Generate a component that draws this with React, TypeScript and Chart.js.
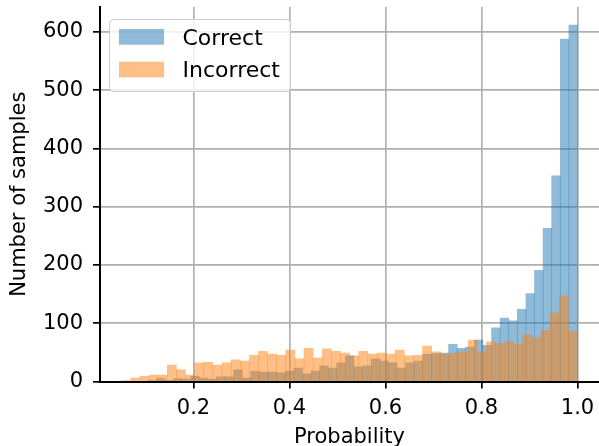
import React, { useEffect, useRef } from 'react';
import { Chart, registerables } from 'chart.js';

Chart.register(...registerables);

// ---- data (50 bins per series) ----
const SERIES_NAMES = ['Correct', 'Incorrect'];
const CORRECT_COUNTS = [
  1, 5, 2, 5, 4, 9, 6, 4, 8, 8,
  20, 6, 18, 16, 16, 15, 18, 23, 13, 18,
  27, 23, 32, 44, 25, 27, 39, 35, 32, 23,
  32, 35, 47, 48, 49, 64, 57, 59, 71, 62,
  92, 109, 104, 124, 151, 191, 263, 353, 588, 612,
];
const INCORRECT_COUNTS = [
  1, 6, 9, 11, 11, 28, 20, 11, 32, 33,
  28, 32, 37, 35, 45, 52, 47, 45, 54, 39,
  57, 40, 56, 52, 49, 44, 52, 47, 49, 47,
  54, 44, 45, 61, 51, 47, 49, 51, 71, 51,
  68, 65, 69, 64, 80, 75, 88, 118, 147, 86,
];
const CORRECT_RANGE = [0.1046, 1.0];
const INCORRECT_RANGE = [0.0504, 1.0];
const X_TICKS = [0.2, 0.4, 0.6, 0.8, 1.0];
const X_TICK_LABELS = ['0.2', '0.4', '0.6', '0.8', '1.0'];
const Y_TICKS = [0, 100, 200, 300, 400, 500, 600];
const Y_TICK_LABELS = ['0', '100', '200', '300', '400', '500', '600'];
const X_LIMITS = [0.0052, 1.0448];
const Y_LIMITS = [0, 643];
const X_TITLE = 'Probability';
const Y_TITLE = 'Number of samples';

const COLORS = ['rgba(31,119,180,0.5)', 'rgba(255,127,14,0.5)'];
const FONT = 'DejaVu Sans';

function binPoints(counts: number[], range: number[]) {
  const w = (range[1] - range[0]) / counts.length;
  return counts.map((c, i) => ({ x: range[0] + (i + 0.5) * w, y: c }));
}

const legendPlugin = {
  id: 'mplLegend',
  afterDraw(chart: any) {
    const ctx = chart.ctx;
    ctx.save();
    ctx.beginPath();
    ctx.roundRect(109.5, 19.5, 181, 72, 4);
    ctx.fillStyle = 'rgba(255,255,255,0.8)';
    ctx.fill();
    ctx.strokeStyle = '#cccccc';
    ctx.lineWidth = 1;
    ctx.stroke();
    chart.data.datasets.forEach((ds: any, i: number) => {
      const y = 29 + i * 32.7;
      ctx.fillStyle = ds.backgroundColor;
      ctx.fillRect(119, y, 45, 15.7);
      ctx.fillStyle = '#000';
      ctx.font = `22px "${FONT}"`;
      ctx.textBaseline = 'alphabetic';
      ctx.textAlign = 'left';
      ctx.fillText(ds.label, 182.5, y + 15.7);
    });
    ctx.restore();
  },
};

export default function App() {
  const ref = useRef<HTMLCanvasElement | null>(null);

  useEffect(() => {
    if (!ref.current) return;
    const tickFont = { family: FONT, size: 21 };
    const chart = new Chart(ref.current, {
      type: 'bar',
      data: {
        datasets: [
          {
            label: SERIES_NAMES[0],
            data: binPoints(CORRECT_COUNTS, CORRECT_RANGE),
            backgroundColor: COLORS[0],
            borderWidth: 0,
            xAxisID: 'x',
            order: 1,
            barPercentage: 1,
            categoryPercentage: 1,
            grouped: false,
          } as any,
          {
            label: SERIES_NAMES[1],
            data: binPoints(INCORRECT_COUNTS, INCORRECT_RANGE),
            backgroundColor: COLORS[1],
            borderWidth: 0,
            xAxisID: 'x2',
            order: 0,
            barPercentage: 1,
            categoryPercentage: 1,
            grouped: false,
          } as any,
        ],
      },
      options: {
        animation: false,
        responsive: false,
        devicePixelRatio: 1,
        layout: { padding: { top: 7, left: 0, right: 0, bottom: 0 } },
        plugins: {
          legend: { display: false },
          tooltip: { enabled: false },
        },
        scales: {
          x: {
            type: 'linear',
            position: 'bottom',
            min: X_LIMITS[0],
            max: X_LIMITS[1],
            offset: false,
            z: 1,
            afterBuildTicks: (s: any) => {
              s.ticks = X_TICKS.map((v) => ({ value: v }));
            },
            afterFit: (s: any) => {
              s.height = 64.5;
              s.paddingLeft = 0;
              s.paddingRight = 0;
            },
            ticks: {
              color: '#000',
              font: tickFont,
              padding: 7,
              maxRotation: 0,
              autoSkip: false,
              callback: (_v: any, i: number) => X_TICK_LABELS[i],
            },
            grid: {
              offset: false,
              color: '#b0b0b0',
              lineWidth: 1.7,
              drawTicks: true,
              tickLength: 7,
              tickColor: '#000',
              tickWidth: 1.7,
            },
            border: { display: true, color: '#000', width: 2 },
            title: {
              display: true,
              text: X_TITLE,
              color: '#000',
              font: tickFont,
              padding: { top: 0, bottom: -4.3 },
            },
          },
          x2: {
            type: 'linear',
            position: 'bottom',
            min: X_LIMITS[0],
            max: X_LIMITS[1],
            offset: false,
            grid: { offset: false },
            display: false,
          },
          y: {
            type: 'linear',
            min: Y_LIMITS[0],
            max: Y_LIMITS[1],
            z: 1,
            afterBuildTicks: (s: any) => {
              s.ticks = Y_TICKS.map((v) => ({ value: v }));
            },
            afterFit: (s: any) => {
              s.width = 100;
              s.paddingTop = 0;
              s.paddingBottom = 0;
            },
            ticks: {
              color: '#000',
              font: tickFont,
              padding: 10,
              autoSkip: false,
              callback: (_v: any, i: number) => Y_TICK_LABELS[i],
            },
            grid: {
              color: '#b0b0b0',
              lineWidth: 1.7,
              drawTicks: true,
              tickLength: 7,
              tickColor: '#000',
              tickWidth: 1.7,
            },
            border: { display: true, color: '#000', width: 2 },
            title: {
              display: true,
              text: Y_TITLE,
              color: '#000',
              font: tickFont,
              padding: { top: 6.8, bottom: 0 },
            },
          },
        },
      } as any,
      plugins: [legendPlugin],
    });
    return () => chart.destroy();
  }, []);

  return (
    <div style={{ position: 'absolute', left: 0, top: 0, width: 599, height: 446 }}>
      <canvas ref={ref} width={599} height={446} style={{ width: 599, height: 446 }} />
    </div>
  );
}
